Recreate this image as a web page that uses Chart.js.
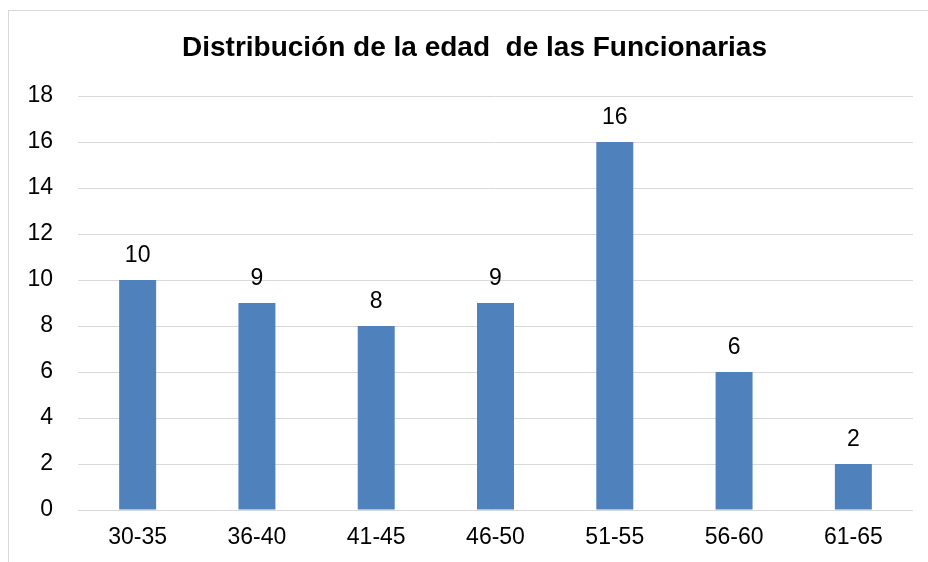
<!DOCTYPE html>
<html>
<head>
<meta charset="utf-8">
<script src="https://cdn.jsdelivr.net/npm/chart.js@4"></script>
<style>
  html, body { margin: 0; padding: 0; background: #fff; }
  #wrap { position: relative; width: 928px; height: 562px; overflow: hidden; }
  #frame { position: absolute; left: 8px; top: 10px; width: 1000px; height: 1000px;
           border-left: 1px solid #d9d9d9; border-top: 1px solid #d9d9d9; }
  canvas { position: absolute; left: 0; top: 0; }
</style>
</head>
<body>
<div id="wrap">
  <div id="frame"></div>
  <canvas id="c" width="928" height="562"></canvas>
</div>
<script>
const titleText = "Distribución de la edad  de las Funcionarias";
const categories = ["30-35", "36-40", "41-45", "46-50", "51-55", "56-60", "61-65"];
const counts = [10, 9, 8, 9, 16, 6, 2];
const yMin = 0, yMax = 18, yStep = 2;

const FONT = "'Liberation Sans', Arial, sans-serif";

const dataLabels = {
  id: 'dataLabels',
  afterDatasetsDraw(chart) {
    const ctx = chart.ctx;
    const meta = chart.getDatasetMeta(0);
    ctx.save();
    ctx.font = "23px " + FONT;
    ctx.fillStyle = "#000";
    ctx.textAlign = "center";
    ctx.textBaseline = "alphabetic";
    meta.data.forEach((bar, i) => {
      ctx.fillText(String(counts[i]), bar.x, bar.y - 18);
    });
    ctx.restore();
  }
};

const chartTitle = {
  id: 'chartTitle',
  afterDraw(chart) {
    const ctx = chart.ctx;
    ctx.save();
    ctx.font = "bold 28px " + FONT;
    ctx.fillStyle = "#000";
    ctx.textAlign = "center";
    ctx.textBaseline = "middle";
    ctx.fillText(titleText, 474.5, 48.5);
    ctx.restore();
  }
};

new Chart(document.getElementById('c'), {
  type: 'bar',
  data: {
    labels: categories,
    datasets: [{
      data: counts,
      backgroundColor: '#4F81BD',
      borderWidth: 0,
      barPercentage: 0.31,
      categoryPercentage: 1.0
    }]
  },
  options: {
    responsive: false,
    animation: false,
    layout: { padding: { left: 0, right: 15, top: 96, bottom: 0 } },
    plugins: {
      legend: { display: false },
      tooltip: { enabled: false },
      title: { display: false }
    },
    scales: {
      x: {
        grid: { display: false, drawTicks: false },
        border: { display: false },
        ticks: { color: '#000', font: { family: FONT, size: 23 }, padding: 14, maxRotation: 0 },
        afterFit(s) { s.height = 52; }
      },
      y: {
        min: yMin, max: yMax,
        grid: { color: '#d9d9d9', lineWidth: 1, drawTicks: false },
        border: { display: false },
        ticks: { stepSize: yStep, color: '#000', font: { family: FONT, size: 23 }, padding: 25 },
        afterFit(s) { s.width = 78; }
      }
    }
  },
  plugins: [dataLabels, chartTitle]
});
</script>
</body>
</html>
